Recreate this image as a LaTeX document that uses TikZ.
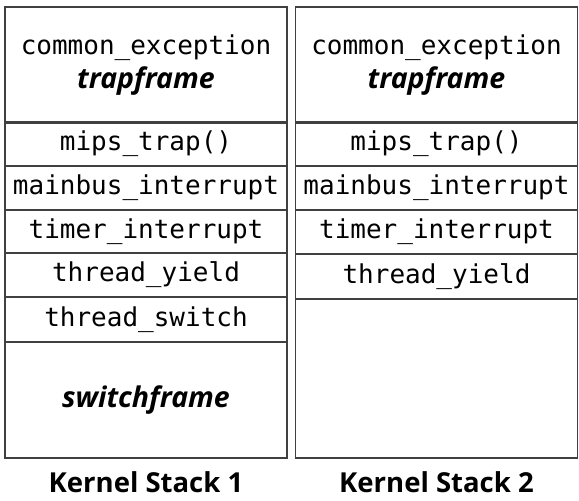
\documentclass[tikz,border=0pt]{standalone}
\usepackage{fontspec}
\setmainfont{Open Sans}
\IfFontExistsTF{Noto Sans SemiBold}
  {\newfontfamily\semifont{Noto Sans SemiBold}[ItalicFont={Noto Sans SemiBold Italic}]}
  {\newfontfamily\semifont{Open Sans Bold}[ItalicFont={Open Sans Bold Italic}]}
\setmonofont{DejaVu Sans Mono}
\begin{document}
\begin{tikzpicture}[x=1pt, y=-1pt,
    cell/.style={draw=black!75, line width=1.2pt, minimum width=282pt, inner sep=0pt,
        align=center, font=\fontsize{26}{34}\selectfont\ttfamily},
    frame/.style={font=\fontsize{28.5}{34}\selectfont\semifont\itshape},
    title/.style={font=\fontsize{27.5}{32}\selectfont\semifont}]
    \useasboundingbox (0,0) rectangle (579,501);
    % kernel stack 1
    \node[cell, minimum height=116pt] (trap1) at (146,65) {common\_exception\\{\fontsize{28.5}{34}\selectfont\semifont\itshape trapframe}};
    \node[cell, minimum height=44pt] (mips1) at (146,144) {mips\_trap()};
    \node[cell, minimum height=44pt] (bus1) at (146,188) {mainbus\_interrupt};
    \node[cell, minimum height=43pt] (timer1) at (146,231.5) {timer\_interrupt};
    \node[cell, minimum height=44pt] (yield1) at (146,275) {thread\_yield};
    \node[cell, minimum height=45pt] (switch1) at (146,319.5) {thread\_switch};
    \node[cell, minimum height=116pt] (frame1) at (146,400) {};
    \node[frame] at (frame1) {switchframe};
    \node[title] (name1) at (146,482) {Kernel Stack 1};
    % kernel stack 2
    \node[cell, minimum height=116pt] (trap2) at (436.5,65) {common\_exception\\{\fontsize{28.5}{34}\selectfont\semifont\itshape trapframe}};
    \node[cell, minimum height=44pt] (mips2) at (436.5,144) {mips\_trap()};
    \node[cell, minimum height=44pt] (bus2) at (436.5,188) {mainbus\_interrupt};
    \node[cell, minimum height=44pt] (timer2) at (436.5,232) {timer\_interrupt};
    \node[cell, minimum height=45pt] (yield2) at (436.5,276.5) {thread\_yield};
    \node[cell, minimum height=159pt] (empty2) at (436.5,378.5) {};
    \node[title] (name2) at (436.5,482) {Kernel Stack 2};
\end{tikzpicture}
\end{document}
